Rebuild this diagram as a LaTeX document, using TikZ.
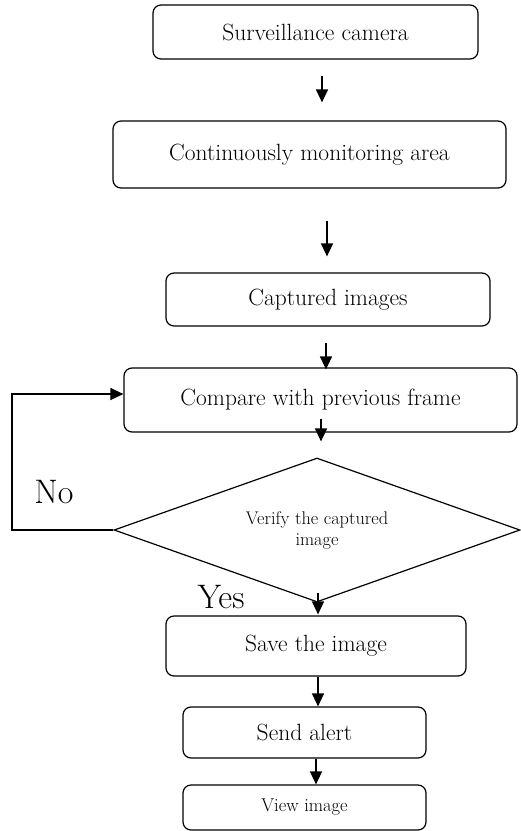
\documentclass[tikz,border=0pt]{standalone}
\usetikzlibrary{arrows.meta,shapes.geometric}
\begin{document}
\begin{tikzpicture}[x=1pt,y=-1pt,
  box/.style={draw,line width=1.2pt,rounded corners=8pt,inner sep=0pt,
    font=\fontsize{23.5}{26}\selectfont},
  smallbox/.style={box,font=\fontsize{18.5}{21}\selectfont},
  decision/.style={draw,line width=1.2pt,diamond,aspect=2.82,inner sep=0pt,align=center,
    font=\fontsize{18.3}{21}\selectfont},
  arr/.style={line width=1.3pt,-{Triangle[length=13pt,width=12pt]}},
  lbl/.style={inner sep=0pt,font=\fontsize{34}{36}\selectfont}]
\useasboundingbox (0,0) rectangle (521,831);
\node[box,minimum width=325pt,minimum height=54pt] (b1) at (315.5,32) {Surveillance camera};
\node[box,minimum width=393pt,minimum height=67pt] (b2) at (309.5,154.5) {Continuously monitoring area};
\node[box,minimum width=324pt,minimum height=53pt] (b3) at (328,299.5) {Captured images};
\node[box,minimum width=393pt,minimum height=64pt] (b4) at (320.5,400) {Compare with previous frame};
\node[decision,minimum width=406pt,minimum height=144pt] (d) at (317,530) {Verify the captured\\image};
\node[box,minimum width=300pt,minimum height=60pt] (b5) at (316,646) {Save the image};
\node[box,minimum width=243pt,minimum height=51pt] (b6) at (304.5,732.5) {Send alert};
\node[smallbox,minimum width=243pt,minimum height=45pt] (b7) at (304.5,807.5) {View image};
\node[lbl] (no) at (54,492) {No};
\node[lbl] (yes) at (221,597) {Yes};
\coordinate (fb) at (12,394);
\draw[arr,shorten <=16pt,shorten >=18pt] ([xshift=6.5pt]b1.south) -- ([xshift=12.5pt]b2.north);
\draw[arr,shorten <=32pt,shorten >=16pt] ([xshift=17.5pt]b2.south) -- ([xshift=-1pt]b3.north);
\draw[arr,shorten <=16pt] ([xshift=-2pt]b3.south) -- ([xshift=5.5pt,yshift=-2pt]b4.north);
\draw[arr,shorten >=16pt] ([xshift=0.5pt,yshift=14pt]b4.south) -- ([xshift=4pt]d.north);
\draw[arr,shorten >=1pt] ([xshift=1pt,yshift=10pt]d.south) -- ([xshift=2pt]b5.north);
\draw[arr] ([xshift=2pt]b5.south) -- ([xshift=13.5pt]b6.north);
\draw[arr] ([xshift=11.5pt]b6.south) -- ([xshift=11.5pt]b7.north);
\draw[arr] (d.west) -| (fb) -- (fb -| b4.west);
\end{tikzpicture}
\end{document}
